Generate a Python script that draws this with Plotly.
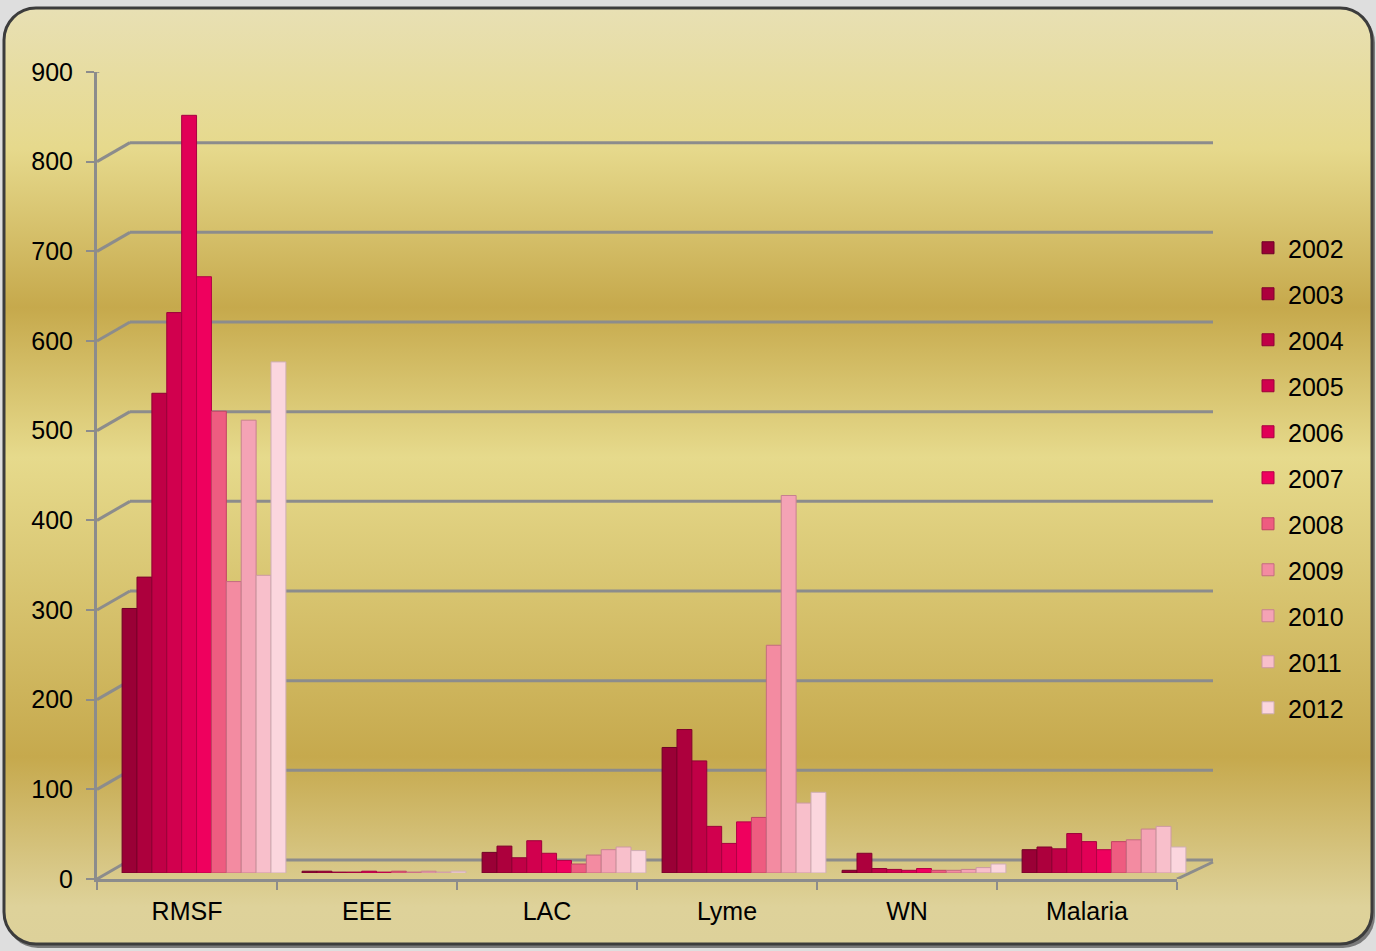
import base64
import plotly.graph_objects as go

categories = ["RMSF", "EEE", "LAC", "Lyme", "WN", "Malaria"]
years = ["2002", "2003", "2004", "2005", "2006", "2007", "2008", "2009", "2010", "2011", "2012"]

# values per category, one entry per year 2002..2012
rmsf = [295, 330, 535, 625, 845, 665, 515, 325, 505, 332, 570]
eee = [2, 2, 1, 1, 2, 1, 2, 1, 2, 1, 2]
lac = [23, 30, 17, 36, 22, 14, 10, 20, 26, 29, 25]
lyme = [140, 160, 125, 52, 33, 57, 62, 254, 421, 78, 90]
wn = [3, 22, 5, 4, 3, 5, 3, 3, 4, 6, 10]
malaria = [26, 29, 27, 44, 35, 26, 35, 37, 49, 52, 29]

y_ticks = [0, 100, 200, 300, 400, 500, 600, 700, 800, 900]

colors = ["#9a0036", "#ad003d", "#c00046", "#d1004e", "#e10056", "#ef005e",
          "#ee5c80", "#f38ba1", "#f4a3b5", "#f8bfcb", "#fbd6de"]
line_colors = ["#6e0026", "#7f002c", "#8e0034", "#9c003a", "#a80040", "#b30046",
               "#c04463", "#c46b80", "#c7818f", "#cc99a3", "#cfaeb5"]

W, H = 1376, 951
L, T = 97, 66
PX1, PY1 = 1194, 879          # plot area right / bottom in px
PW, PH = PX1 - L, PY1 - T
R, B = W - PX1, H - PY1
FRONT_W = 1080                # width of the front floor (category axis)
FRONT_H = 807                 # height of the front value axis
SHIFT_X, SHIFT_Y = 17, 6      # depth offset of the bars

series = [rmsf, eee, lac, lyme, wn, malaria]

fig = go.Figure()
for i, yr in enumerate(years):
    fig.add_trace(go.Bar(
        x=categories,
        y=[s[i] for s in series],
        name=yr,
        legendgroup=yr,
        xaxis="x2", yaxis="y2",
        marker=dict(color=colors[i], line=dict(color=line_colors[i], width=1)),
    ))

# Background: golden gradient rounded panel as an inline SVG image
svg = f'''<svg xmlns="http://www.w3.org/2000/svg" width="{W}" height="{H}" viewBox="0 0 {W} {H}" preserveAspectRatio="none">
<defs>
<linearGradient id="g" x1="0" y1="0" x2="0" y2="1">
<stop offset="0" stop-color="#e8e0b4"/>
<stop offset="0.15" stop-color="#e6d98c"/>
<stop offset="0.32" stop-color="#c6a94c"/>
<stop offset="0.48" stop-color="#e6da8c"/>
<stop offset="0.80" stop-color="#c6a94d"/>
<stop offset="0.96" stop-color="#ded29a"/>
<stop offset="1" stop-color="#ddd19a"/>
</linearGradient>
</defs>
<rect x="0" y="0" width="{W}" height="{H}" fill="#dedede"/>
<rect x="6" y="11" width="1369" height="937" rx="32" ry="32" fill="#7a7a7a"/>
<rect x="4" y="8" width="1368" height="936" rx="32" ry="32" fill="url(#g)" stroke="#3c3c3c" stroke-width="3"/>
</svg>'''
src = "data:image/svg+xml;base64," + base64.b64encode(svg.encode()).decode()
fig.add_layout_image(dict(
    source=src, xref="paper", yref="paper",
    x=-L / PW, y=1 + T / PH, sizex=W / PW, sizey=H / PH,
    xanchor="left", yanchor="top", sizing="stretch", layer="below",
))

# pseudo-3D walls: back-wall gridlines and diagonal connectors
dx = 33 / PW
dy_px = 19
right_back = (1213 - L) / PW
front_end = FRONT_W / PW
grid = dict(color="#8c8c8c", width=3)
shapes = []
for v in y_ticks:
    shapes.append(dict(type="line", xref="paper", yref="y", ysizemode="pixel", yanchor=v,
                       x0=0, x1=dx, y0=0, y1=dy_px, line=grid, layer="below"))
    shapes.append(dict(type="line", xref="paper", yref="y", ysizemode="pixel", yanchor=v,
                       x0=dx, x1=right_back, y0=dy_px, y1=dy_px, line=grid, layer="below"))
shapes.append(dict(type="line", xref="paper", yref="y", ysizemode="pixel", yanchor=0,
                   x0=front_end, x1=right_back, y0=0, y1=dy_px - 2, line=grid, layer="below"))
fig.update_layout(shapes=shapes)

font = "Liberation Sans, Arial, sans-serif"
fig.update_layout(
    width=W, height=H,
    margin=dict(l=L, r=R, t=T, b=B, pad=0),
    paper_bgcolor="#dedede",
    plot_bgcolor="rgba(0,0,0,0)",
    barmode="group",
    bargap=0.09,
    bargroupgap=0,
    font=dict(family=font, size=25, color="#000000"),
    xaxis=dict(
        domain=[0, FRONT_W / PW], range=[-0.5, len(categories) - 0.5],
        tickvals=list(range(len(categories))), ticktext=categories,
        showgrid=False, zeroline=False, showline=True, linecolor="#8c8c8c", linewidth=3,
        ticks="", ticklabelstandoff=8, tickfont=dict(size=25),
        minor=dict(tickvals=[k - 0.5 for k in range(len(categories) + 1)],
                   ticks="outside", ticklen=8, tickwidth=2, tickcolor="#8c8c8c", showgrid=False),
        anchor="y", fixedrange=True,
    ),
    yaxis=dict(
        domain=[0, FRONT_H / PH], range=[0, 900], tickvals=y_ticks,
        showgrid=False, zeroline=False,
        showline=True, linecolor="#8c8c8c", linewidth=3,
        ticks="outside", ticklen=8, tickwidth=2, tickcolor="#8c8c8c",
        tickfont=dict(size=25), ticklabelstandoff=8, anchor="x",
    ),
    xaxis2=dict(
        domain=[SHIFT_X / PW, (SHIFT_X + FRONT_W) / PW], type="category",
        categoryorder="array", categoryarray=categories,
        visible=False, anchor="y2",
    ),
    yaxis2=dict(
        domain=[SHIFT_Y / PH, (SHIFT_Y + FRONT_H) / PH], range=[0, 900],
        visible=False, anchor="x2",
    ),
    legend=dict(
        x=(1248 - L) / PW, y=(PY1 - 225) / PH, xanchor="left", yanchor="top",
        bgcolor="rgba(0,0,0,0)", font=dict(size=25), tracegroupgap=10.5,
        traceorder="grouped", itemwidth=30,
    ),
    showlegend=True,
)

fig.write_html("out.html", config={"displayModeBar": False},
               post_script="document.body.style.margin='0';document.body.style.overflow='hidden';")
